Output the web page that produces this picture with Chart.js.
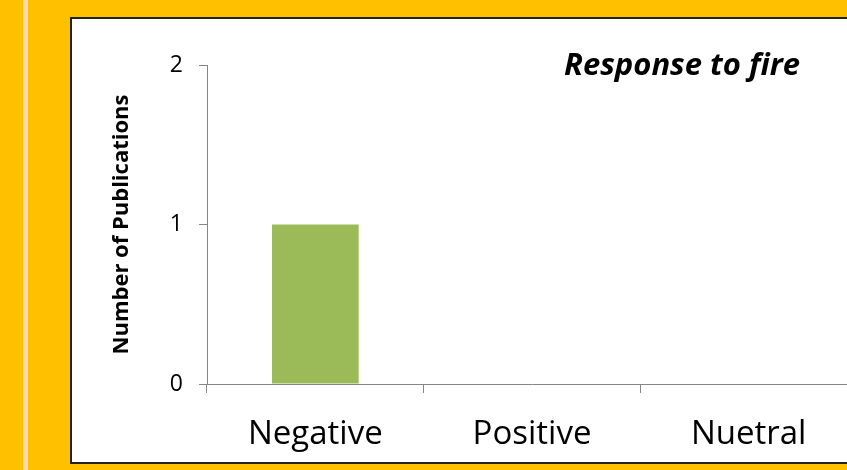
<!DOCTYPE html>
<html><head><meta charset="utf-8">
<script src="https://cdn.jsdelivr.net/npm/chart.js@4"></script>
<style>
html,body{margin:0;padding:0;width:847px;height:470px;overflow:hidden;background:#FFC000;}
#stripe{position:absolute;left:23px;top:0;width:5px;height:470px;background:#FCD9B4;}
#box{position:absolute;left:70px;top:17px;width:820px;height:443px;background:#fff;border:2px solid #222;box-sizing:content-box;}
#wrap{position:absolute;left:0;top:0;width:900px;height:470px;}
#title{position:absolute;left:564px;top:43px;font-family:"Open Sans",sans-serif;font-weight:bold;font-style:italic;font-size:31px;line-height:40px;color:#000;white-space:nowrap;}
</style></head>
<body>
<div id="stripe"></div>
<div id="box"></div>
<div id="wrap"><canvas id="c" width="900" height="470"></canvas></div>
<div id="title">Response to fire</div>
<script>
const categories = ["Negative", "Positive", "Nuetral"];
const publications = [1, 0, 0];
const yTicks = [0, 1, 2];

const axisGray = '#868686';
const FONT = '"Open Sans", sans-serif';
new Chart(document.getElementById('c'), {
  type: 'bar',
  data: {
    labels: categories,
    datasets: [{
      data: publications,
      backgroundColor: '#9BBB59',
      borderWidth: 0,
      categoryPercentage: 0.8,
      barPercentage: 0.5
    }]
  },
  options: {
    responsive: false,
    animation: false,
    layout: { padding: { left: 100, top: 65, right: 43, bottom: 0 } },
    plugins: { legend: { display: false }, tooltip: { enabled: false } },
    scales: {
      x: {
        grid: { display: true, drawOnChartArea: false, drawTicks: true, tickLength: 9, color: axisGray, lineWidth: 1, offset: true },
        border: { display: true, color: axisGray, width: 1 },
        ticks: { color: '#000', font: { family: FONT, size: 33 }, padding: 22, maxRotation: 0 },
        afterFit: (s) => { s.height = 86; }
      },
      y: {
        min: 0, max: 2,
        afterBuildTicks: (s) => { s.ticks = yTicks.map(v => ({ value: v })); },
        grid: { display: true, drawOnChartArea: false, drawTicks: true, tickLength: 8, color: axisGray, lineWidth: 1 },
        border: { display: true, color: axisGray, width: 1 },
        ticks: { color: '#000', font: { family: FONT, size: 23 }, padding: 16 },
        title: { display: true, text: 'Number of Publications', color: '#000', font: { family: FONT, size: 22, weight: 'bold' }, padding: { top: 9, bottom: 0 } },
        afterFit: (s) => { s.width = 107; }
      }
    }
  }
});
</script>
</body></html>
